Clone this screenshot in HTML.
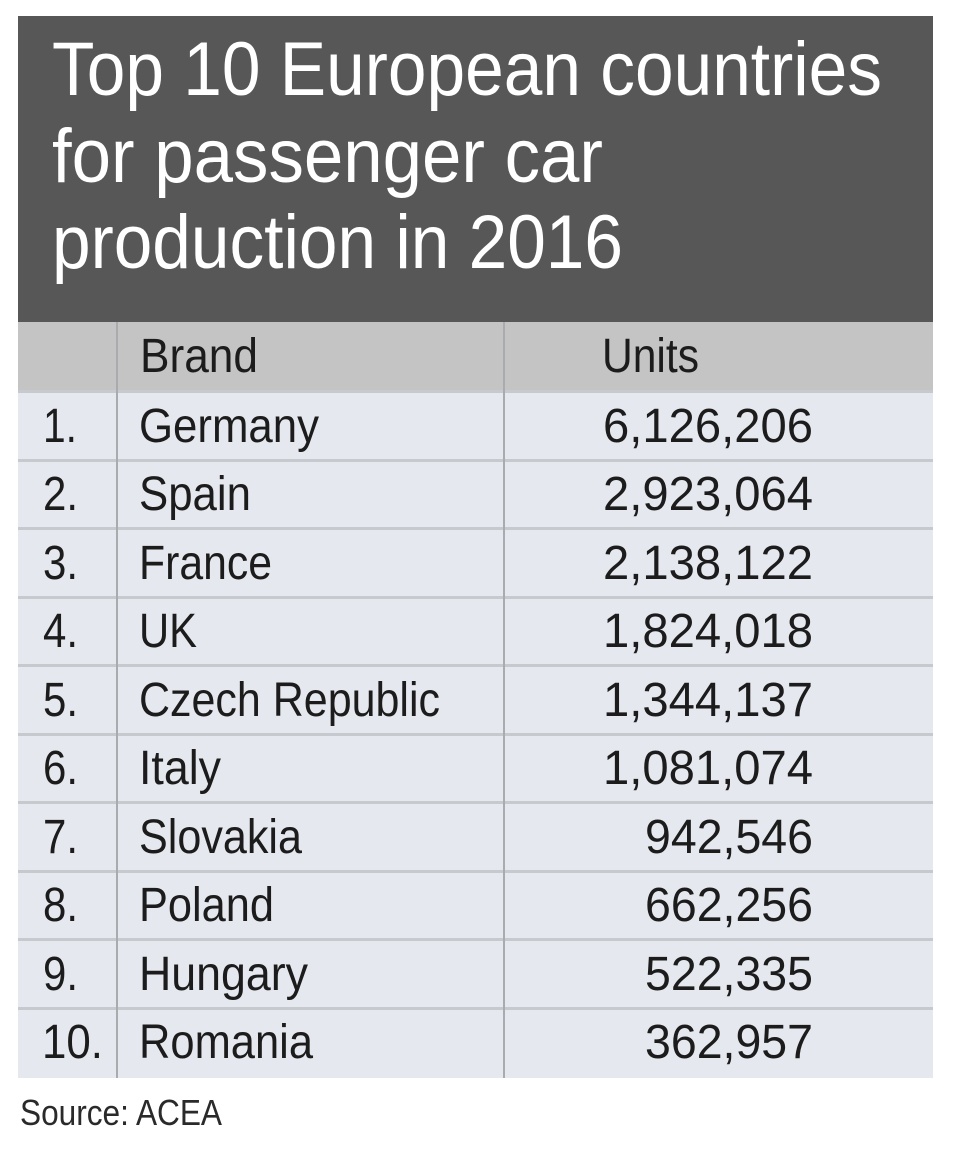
<!DOCTYPE html>
<html>
<head>
<meta charset="utf-8">
<style>
  html,body{margin:0;padding:0;background:#ffffff;}
  svg{display:block;}
  text{font-family:"Liberation Sans",sans-serif;}
</style>
</head>
<body>
<svg width="960" height="1150" viewBox="0 0 960 1150" xmlns="http://www.w3.org/2000/svg">
  <rect x="0" y="0" width="960" height="1150" fill="#ffffff"/>
  <!-- title block -->
  <rect x="18" y="16" width="915" height="306" fill="#565756"/>
  <g fill="#ffffff" font-size="76">
    <text x="52" y="95" textLength="830" lengthAdjust="spacingAndGlyphs">Top 10 European countries</text>
    <text x="52" y="182" textLength="551" lengthAdjust="spacingAndGlyphs">for passenger car</text>
    <text x="52" y="268" textLength="571" lengthAdjust="spacingAndGlyphs">production in 2016</text>
  </g>
  <!-- header row -->
  <rect x="18" y="322" width="915" height="69" fill="#c3c4c3"/>
  <!-- body -->
  <rect x="18" y="391" width="915" height="687" fill="#e5e8ef"/>
  <!-- row separators -->
  <g fill="#c6c9ce">
    <rect x="18" y="390" width="915" height="3"/>
    <rect x="18" y="459" width="915" height="3"/>
    <rect x="18" y="527" width="915" height="3"/>
    <rect x="18" y="596" width="915" height="3"/>
    <rect x="18" y="664" width="915" height="3"/>
    <rect x="18" y="733" width="915" height="3"/>
    <rect x="18" y="801" width="915" height="3"/>
    <rect x="18" y="870" width="915" height="3"/>
    <rect x="18" y="938" width="915" height="3"/>
    <rect x="18" y="1007" width="915" height="3"/>
  </g>
  <!-- column lines -->
  <g fill="#a9abae">
    <rect x="116" y="322" width="2" height="756"/>
    <rect x="503" y="322" width="2" height="756"/>
  </g>
  <!-- header text -->
  <g fill="#1c1c1c" font-size="48">
    <text x="140" y="372" textLength="118" lengthAdjust="spacingAndGlyphs">Brand</text>
    <text x="602" y="372" textLength="97" lengthAdjust="spacingAndGlyphs">Units</text>
  </g>
  <!-- body text -->
  <g fill="#1c1c1c" font-size="48">
    <text x="43" y="442" textLength="34" lengthAdjust="spacingAndGlyphs">1.</text>
    <text x="139" y="442" textLength="180" lengthAdjust="spacingAndGlyphs">Germany</text>
    <text x="813" y="442" text-anchor="end" textLength="210" lengthAdjust="spacingAndGlyphs">6,126,206</text>

    <text x="43" y="510" textLength="35" lengthAdjust="spacingAndGlyphs">2.</text>
    <text x="139" y="510" textLength="112" lengthAdjust="spacingAndGlyphs">Spain</text>
    <text x="813" y="510" text-anchor="end" textLength="210" lengthAdjust="spacingAndGlyphs">2,923,064</text>

    <text x="43" y="579" textLength="35" lengthAdjust="spacingAndGlyphs">3.</text>
    <text x="139" y="579" textLength="133" lengthAdjust="spacingAndGlyphs">France</text>
    <text x="813" y="579" text-anchor="end" textLength="210" lengthAdjust="spacingAndGlyphs">2,138,122</text>

    <text x="43" y="647" textLength="35" lengthAdjust="spacingAndGlyphs">4.</text>
    <text x="139" y="647" textLength="58" lengthAdjust="spacingAndGlyphs">UK</text>
    <text x="813" y="647" text-anchor="end" textLength="210" lengthAdjust="spacingAndGlyphs">1,824,018</text>

    <text x="43" y="716" textLength="35" lengthAdjust="spacingAndGlyphs">5.</text>
    <text x="139" y="716" textLength="301" lengthAdjust="spacingAndGlyphs">Czech Republic</text>
    <text x="813" y="716" text-anchor="end" textLength="210" lengthAdjust="spacingAndGlyphs">1,344,137</text>

    <text x="43" y="784" textLength="35" lengthAdjust="spacingAndGlyphs">6.</text>
    <text x="139" y="784" textLength="82" lengthAdjust="spacingAndGlyphs">Italy</text>
    <text x="813" y="784" text-anchor="end" textLength="210" lengthAdjust="spacingAndGlyphs">1,081,074</text>

    <text x="43" y="853" textLength="35" lengthAdjust="spacingAndGlyphs">7.</text>
    <text x="139" y="853" textLength="163" lengthAdjust="spacingAndGlyphs">Slovakia</text>
    <text x="813" y="853" text-anchor="end" textLength="168" lengthAdjust="spacingAndGlyphs">942,546</text>

    <text x="43" y="921" textLength="35" lengthAdjust="spacingAndGlyphs">8.</text>
    <text x="139" y="921" textLength="135" lengthAdjust="spacingAndGlyphs">Poland</text>
    <text x="813" y="921" text-anchor="end" textLength="168" lengthAdjust="spacingAndGlyphs">662,256</text>

    <text x="43" y="990" textLength="35" lengthAdjust="spacingAndGlyphs">9.</text>
    <text x="139" y="990" textLength="169" lengthAdjust="spacingAndGlyphs">Hungary</text>
    <text x="813" y="990" text-anchor="end" textLength="168" lengthAdjust="spacingAndGlyphs">522,335</text>

    <text x="42" y="1058" textLength="61" lengthAdjust="spacingAndGlyphs">10.</text>
    <text x="139" y="1058" textLength="174" lengthAdjust="spacingAndGlyphs">Romania</text>
    <text x="813" y="1058" text-anchor="end" textLength="168" lengthAdjust="spacingAndGlyphs">362,957</text>
  </g>
  <!-- source -->
  <text x="20" y="1125" fill="#2a2a2a" font-size="36" textLength="202" lengthAdjust="spacingAndGlyphs">Source: ACEA</text>
</svg>
</body>
</html>
